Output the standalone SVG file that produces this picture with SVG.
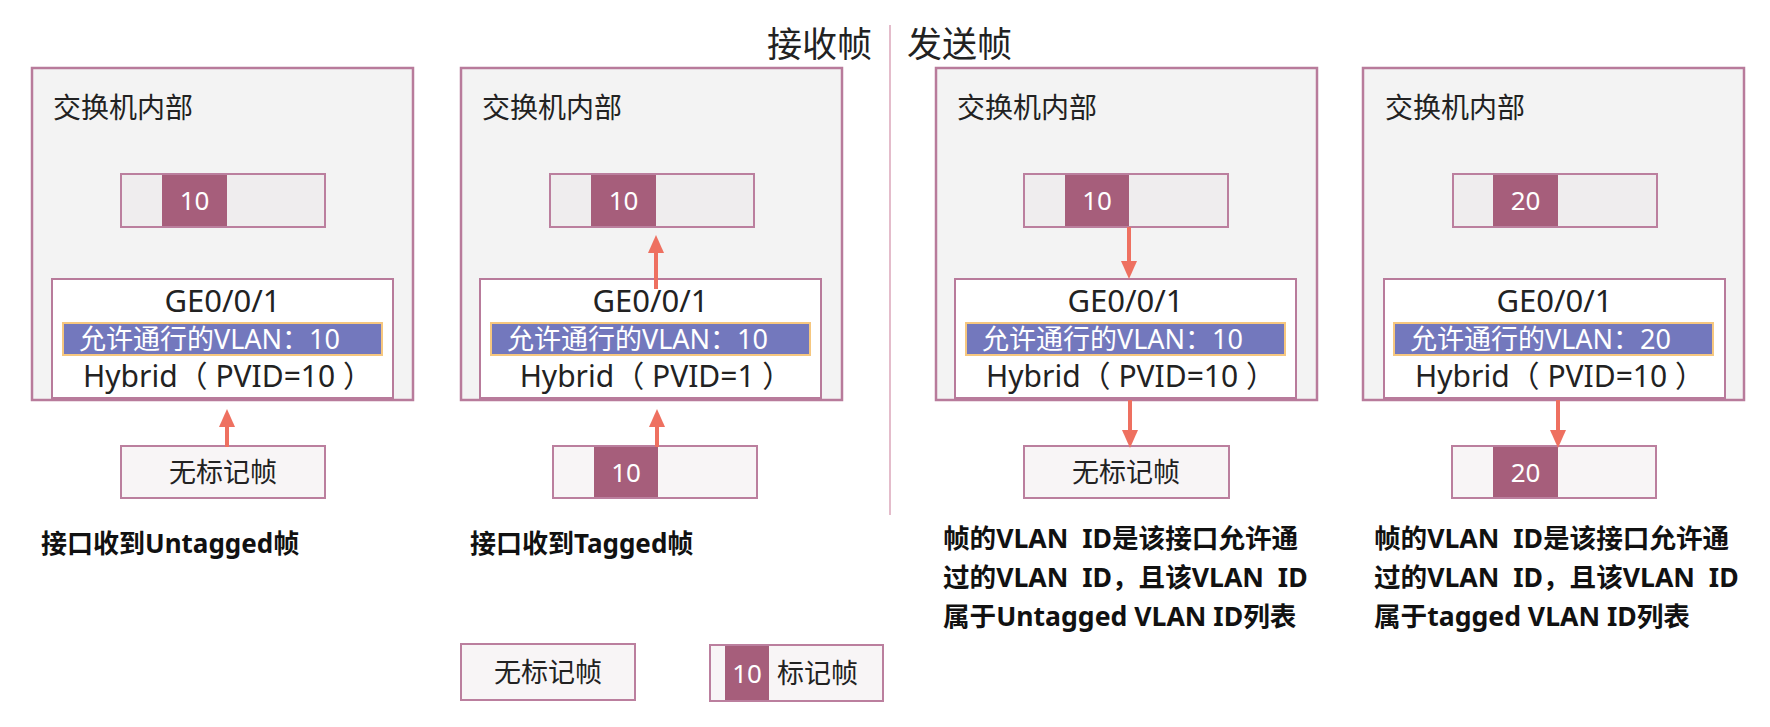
<svg xmlns="http://www.w3.org/2000/svg" width="1770" height="727" viewBox="0 0 1770 727">
<defs>
<style>
text{font-family:"Noto Sans","Noto Sans CJK SC",sans-serif;fill:#222}
.panel{fill:#f3f3f3;stroke:#b87b9b;stroke-width:2.5}
.port{fill:#fff;stroke:#b87b9b;stroke-width:2}
.frm{fill:#efedee;stroke:#bb7f9e;stroke-width:2}
.frmb{fill:#f8f5f6;stroke:#bb7f9e;stroke-width:2}
.tag{fill:#a65e7b}
.bar{fill:#7378bd;stroke:#f6c77f;stroke-width:2}
.t27{font-size:27px}
.t28{font-size:28px}
.ge{font-size:31px;text-anchor:middle}
.hy{font-size:30px;text-anchor:middle;white-space:pre}
.tagt{font-size:26px;fill:#fff;text-anchor:middle}
.bart{font-size:27px;fill:#fff}
.mid{text-anchor:middle}
.bold{font-size:26px;font-weight:bold;fill:#111;white-space:pre}
.bold2{font-size:26.6px;font-weight:bold;fill:#111;white-space:pre}
.title{font-size:35px}
.arr{stroke:#ee7060;stroke-width:4;fill:none;marker-end:url(#ah)}
</style>
<marker id="ah" viewBox="0 0 18 16" refX="8" refY="8" markerWidth="18" markerHeight="16" markerUnits="userSpaceOnUse" orient="auto">
<path d="M0,0 L18,8 L0,16 z" fill="#ee7060"/>
</marker>
</defs>
<rect width="1770" height="727" fill="#fff"/>

<g id="titles">
<text class="title" x="872" y="57" text-anchor="end">接收帧</text>
<text class="title" x="907" y="57">发送帧</text>
<line x1="890" y1="25" x2="890" y2="515" stroke="#e4bccb" stroke-width="2"/>
</g>

<g id="panel1">
<rect class="panel" x="32" y="68" width="381" height="332"/>
<text class="t28" x="53" y="118">交换机内部</text>
<rect class="frm" x="121" y="174" width="204" height="53"/>
<rect class="tag" x="162" y="175" width="65" height="51"/>
<text class="tagt" x="194.5" y="210">10</text>
<rect class="port" x="52" y="279" width="341" height="119"/>
<text class="ge" x="222.5" y="312">GE0/0/1</text>
<rect class="bar" x="63" y="323" width="319" height="32"/>
<text class="bart" x="79" y="349">允许通行的VLAN：10</text>
<text class="hy" x="228" y="387" xml:space="preserve">Hybrid（ PVID=10 ）</text>
</g>
<g id="frame1">
<rect class="frmb" x="121" y="446" width="204" height="52"/>
<text class="t27 mid" x="223" y="482" fill="#333">无标记帧</text>
</g>
<text id="cap1" class="bold" x="41" y="553">接口收到Untagged帧</text>

<g id="panel2">
<rect class="panel" x="461" y="68" width="381" height="332"/>
<text class="t28" x="482" y="118">交换机内部</text>
<rect class="frm" x="550" y="174" width="204" height="53"/>
<rect class="tag" x="591" y="175" width="65" height="51"/>
<text class="tagt" x="623.5" y="210">10</text>
<rect class="port" x="480" y="279" width="341" height="119"/>
<text class="ge" x="650.5" y="312">GE0/0/1</text>
<rect class="bar" x="491" y="323" width="319" height="32"/>
<text class="bart" x="507" y="349">允许通行的VLAN：10</text>
<text class="hy" x="656" y="387" xml:space="preserve">Hybrid（ PVID=1 ）</text>
</g>
<g id="frame2">
<rect class="frmb" x="553" y="446" width="204" height="52"/>
<rect class="tag" x="594" y="447" width="64" height="50"/>
<text class="tagt" x="626" y="482">10</text>
</g>
<text id="cap2" class="bold" x="470" y="553">接口收到Tagged帧</text>

<g id="panel3">
<rect class="panel" x="936" y="68" width="381" height="332"/>
<text class="t28" x="957" y="118">交换机内部</text>
<rect class="frm" x="1024" y="174" width="204" height="53"/>
<rect class="tag" x="1065" y="175" width="64" height="51"/>
<text class="tagt" x="1097" y="210">10</text>
<rect class="port" x="955" y="279" width="341" height="119"/>
<text class="ge" x="1125.5" y="312">GE0/0/1</text>
<rect class="bar" x="966" y="323" width="319" height="32"/>
<text class="bart" x="982" y="349">允许通行的VLAN：10</text>
<text class="hy" x="1131" y="387" xml:space="preserve">Hybrid（ PVID=10 ）</text>
</g>
<g id="frame3">
<rect class="frmb" x="1024" y="446" width="205" height="52"/>
<text class="t27 mid" x="1126" y="482" fill="#333">无标记帧</text>
</g>
<g id="cap3">
<text class="bold2" x="943" y="548" xml:space="preserve">帧的VLAN  ID是该接口允许通</text>
<text class="bold2" x="943" y="587" xml:space="preserve">过的VLAN  ID，且该VLAN  ID</text>
<text class="bold2" x="943" y="626" xml:space="preserve">属于Untagged VLAN ID列表</text>
</g>

<g id="panel4">
<rect class="panel" x="1363" y="68" width="381" height="332"/>
<text class="t28" x="1385" y="118">交换机内部</text>
<rect class="frm" x="1453" y="174" width="204" height="53"/>
<rect class="tag" x="1493" y="175" width="65" height="51"/>
<text class="tagt" x="1525.5" y="210">20</text>
<rect class="port" x="1384" y="279" width="341" height="119"/>
<text class="ge" x="1554.5" y="312">GE0/0/1</text>
<rect class="bar" x="1394" y="323" width="319" height="32"/>
<text class="bart" x="1410" y="349">允许通行的VLAN：20</text>
<text class="hy" x="1560" y="387" xml:space="preserve">Hybrid（ PVID=10 ）</text>
</g>
<g id="frame4">
<rect class="frmb" x="1452" y="446" width="204" height="52"/>
<rect class="tag" x="1493" y="447" width="65" height="50"/>
<text class="tagt" x="1525.5" y="482">20</text>
</g>
<g id="cap4">
<text class="bold2" x="1374" y="548" xml:space="preserve">帧的VLAN  ID是该接口允许通</text>
<text class="bold2" x="1374" y="587" xml:space="preserve">过的VLAN  ID，且该VLAN  ID</text>
<text class="bold2" x="1374" y="626" xml:space="preserve">属于tagged VLAN ID列表</text>
</g>

<g id="legend-untagged">
<rect class="frmb" x="461" y="644" width="174" height="56"/>
<text class="t27 mid" x="548" y="682" fill="#333">无标记帧</text>
</g>
<g id="legend-tagged">
<rect class="frmb" x="710" y="645" width="173" height="56"/>
<rect class="tag" x="725" y="646" width="44" height="54"/>
<text class="tagt" x="747" y="683">10</text>
<text class="t27" x="777" y="683" fill="#333">标记帧</text>
</g>

<g id="connectors">
<line class="arr" x1="227" y1="447" x2="227" y2="419"/>
<line class="arr" x1="657" y1="447" x2="657" y2="419"/>
<line class="arr" x1="656" y1="289" x2="656" y2="245"/>
<line class="arr" x1="1129" y1="227" x2="1129" y2="269"/>
<line class="arr" x1="1130" y1="400" x2="1130" y2="438"/>
<line class="arr" x1="1558" y1="400" x2="1558" y2="438"/>
</g>
</svg>
